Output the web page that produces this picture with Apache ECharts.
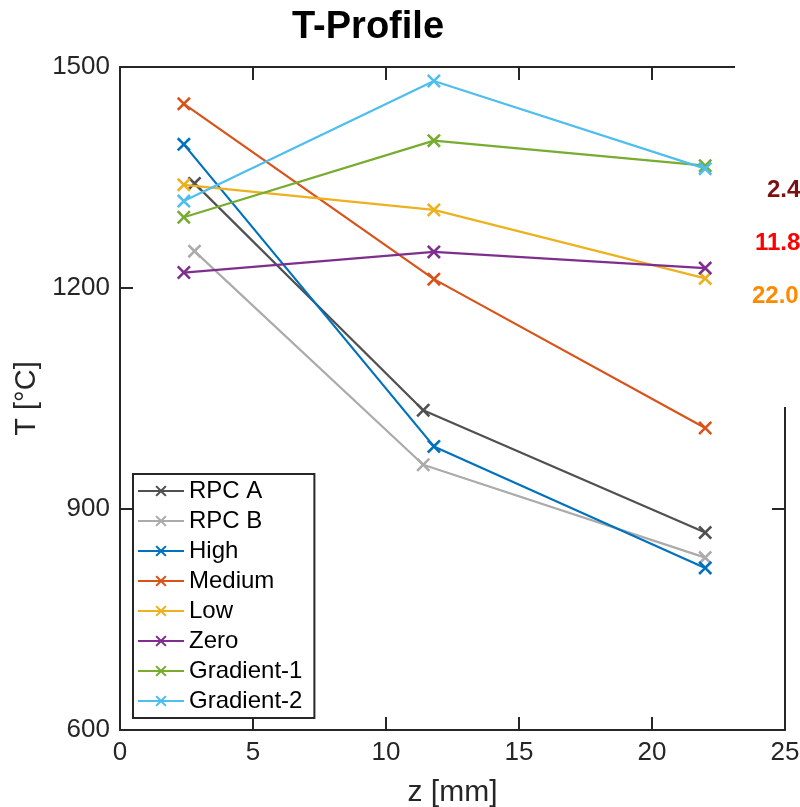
<!DOCTYPE html>
<html>
<head>
<meta charset="utf-8">
<script src="https://cdn.jsdelivr.net/npm/echarts@6/dist/echarts.min.js"></script>
<style>
    html, body {
        margin: 0;
        padding: 0;
        background: #fff;
    }

    #chart {
        width: 800px;
        height: 807px;
    }
</style>
</head>
<body>
<div id="chart"></div>
<script>
// data
const seriesNames = ['RPC A', 'RPC B', 'High', 'Medium', 'Low', 'Zero', 'Gradient-1', 'Gradient-2'];
const zRpc = [2.8, 11.4, 22.0];
const zRun = [2.4, 11.8, 22.0];
const tRpcA = [1342, 1034, 868];
const tRpcB = [1250, 960, 834];
const tHigh = [1395, 985, 820];
const tMedium = [1450, 1212, 1010];
const tLow = [1340, 1306, 1213];
const tZero = [1221, 1249, 1227];
const tGradient1 = [1296, 1400, 1366];
const tGradient2 = [1318, 1481, 1362];
const xTicks = [0, 5, 10, 15, 20, 25];
const yTicks = [600, 900, 1200, 1500];
const sideLabels = ['2.4', '11.8', '22.0'];

const seriesZ = [zRpc, zRpc, zRun, zRun, zRun, zRun, zRun, zRun];
const seriesT = [tRpcA, tRpcB, tHigh, tMedium, tLow, tZero, tGradient1, tGradient2];
const colors = ['#505050', '#ababab', '#0072bd', '#d95319', '#edb120', '#7e2f8e', '#77ac30', '#4dbeee'];

// filled "x" marker
const crossPath = 'path://M0,13L13,0L50,37L87,0L100,13L63,50L100,87L87,100L50,63L13,100L0,87L37,50Z';

const axisColor = '#262626';
const font = 'Arial, "Liberation Sans", sans-serif';

const chart = echarts.init(document.getElementById('chart'));

const series = seriesNames.map((name, i) => ({
    name: name,
    type: 'line',
    data: seriesZ[i].map((z, k) => [z, seriesT[i][k]]),
    symbol: crossPath,
    symbolSize: 14,
    lineStyle: { color: colors[i], width: 2.2 },
    itemStyle: { color: colors[i] },
    emphasis: { disabled: true },
    z: 2 + i
}));

function xAxisBase(pos) {
    return {
        type: 'value',
        position: pos,
        min: xTicks[0],
        max: xTicks[xTicks.length - 1],
        interval: xTicks[1] - xTicks[0],
        axisLine: { show: true, onZero: false, lineStyle: { color: axisColor, width: 2 } },
        axisTick: { show: true, inside: true, length: 13, lineStyle: { color: axisColor, width: 2 } },
        splitLine: { show: false }
    };
}

function yAxisBase(pos) {
    return {
        type: 'value',
        position: pos,
        min: yTicks[0],
        max: yTicks[yTicks.length - 1],
        interval: yTicks[1] - yTicks[0],
        axisLine: { show: true, onZero: false, lineStyle: { color: axisColor, width: 2 } },
        axisTick: { show: true, inside: true, length: 13, lineStyle: { color: axisColor, width: 2 } },
        splitLine: { show: false }
    };
}

const option = {
    backgroundColor: '#fff',
    animation: false,
    title: {
        text: 'T-Profile',
        left: 292,
        top: 9,
        padding: 0,
        textStyle: { fontFamily: font, fontSize: 38, fontWeight: 'bold', color: '#000' }
    },
    grid: {
        left: 120,
        right: 15,
        top: 67,
        bottom: 77,
        containLabel: false,
        outerBoundsMode: 'none'
    },
    legend: {
        orient: 'vertical',
        left: 133,
        top: 474,
        itemWidth: 46,
        itemHeight: 14,
        itemGap: 6,
        padding: [5, 12, 5, 4],
        backgroundColor: '#fff',
        borderColor: axisColor,
        borderWidth: 2,
        borderRadius: 0,
        data: seriesNames,
        textStyle: { fontFamily: font, fontSize: 24, lineHeight: 24, color: '#000' }
    },
    xAxis: [
        Object.assign(xAxisBase('bottom'), {
            name: 'z [mm]',
            nameLocation: 'middle',
            nameGap: 48,
            nameTextStyle: { fontFamily: font, fontSize: 30, color: axisColor },
            axisLabel: { fontFamily: font, fontSize: 26, color: axisColor, margin: 10 }
        }),
        Object.assign(xAxisBase('top'), { axisLabel: { show: false } })
    ],
    yAxis: [
        Object.assign(yAxisBase('left'), {
            name: 'T [°C]',
            nameLocation: 'middle',
            nameRotate: 90,
            nameGap: 76,
            nameTextStyle: { fontFamily: font, fontSize: 29, color: axisColor },
            axisLabel: { fontFamily: font, fontSize: 26, color: axisColor, margin: 10, formatter: v => String(v) }
        }),
        Object.assign(yAxisBase('right'), { axisLabel: { show: false } })
    ],
    graphic: [
        // white patch that hides the top-right part of the frame
        { type: 'rect', left: 735, top: 50, shape: { width: 65, height: 357 }, style: { fill: '#fff' }, z: 100 },
        { type: 'text', left: 767, top: 178, z: 101,
          style: { text: sideLabels[0], fill: '#7b1010', font: 'bold 24px ' + font } },
        { type: 'text', left: 755, top: 231, z: 101,
          style: { text: sideLabels[1], fill: '#ff0000', font: 'bold 24px ' + font } },
        { type: 'text', left: 752, top: 284, z: 101,
          style: { text: sideLabels[2], fill: '#ff8a00', font: 'bold 24px ' + font } }
    ],
    series: series
};

chart.setOption(option);
</script>
</body>
</html>
